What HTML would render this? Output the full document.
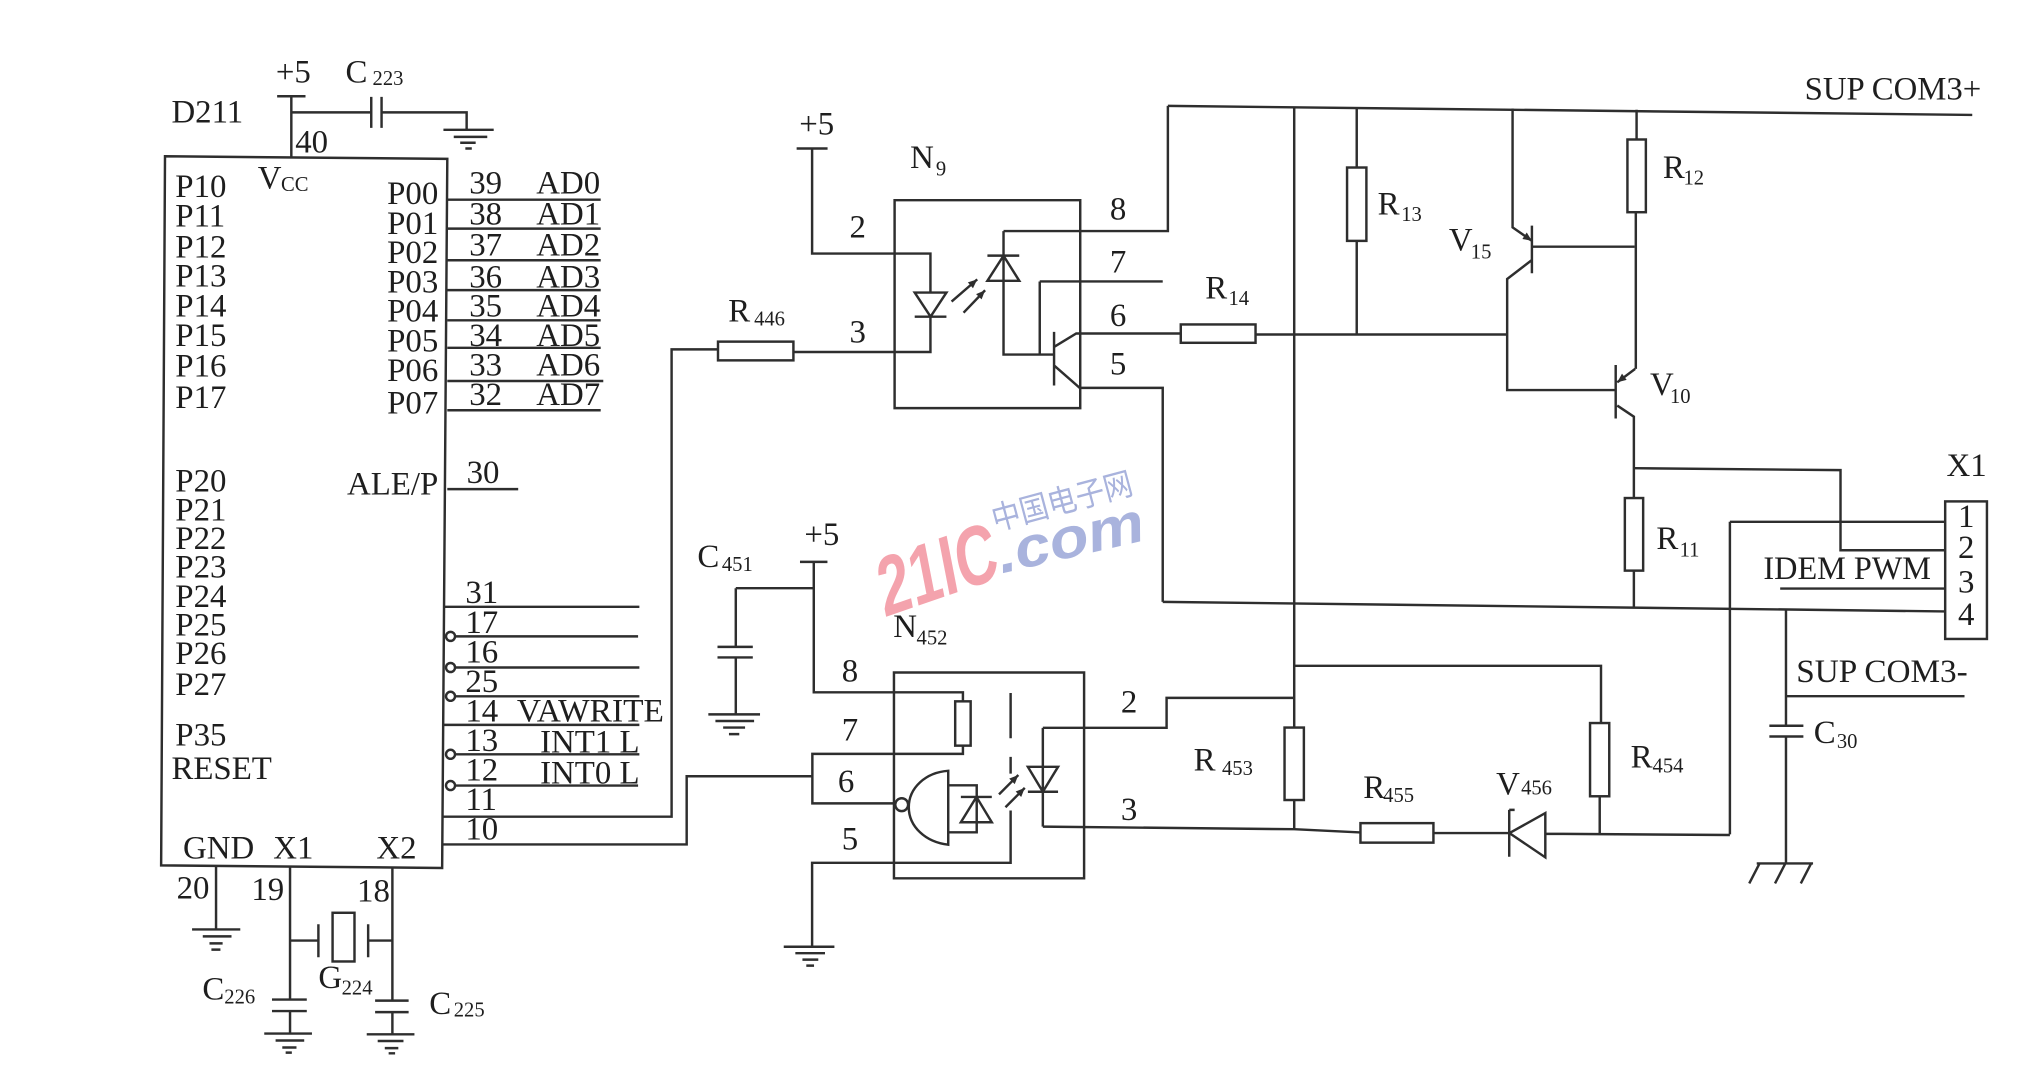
<!DOCTYPE html>
<html><head><meta charset="utf-8"><style>
html,body{margin:0;padding:0;background:#fff;}
svg{display:block;}
.t text{font-family:"Liberation Serif","Noto Serif CJK SC",serif;fill:#1e1e1e;}
.t .s{font-size:16px;}
</style></head><body>
<svg width="2025" height="1085" viewBox="0 0 1550.5 830.8" preserveAspectRatio="none" xmlns="http://www.w3.org/2000/svg">
<rect x="0" y="0" width="1550.5" height="830.8" fill="#fff"/>
<g transform="scale(0.987,0.989)">
<!-- watermark -->
<text x="0" y="0" style="font-family:'Liberation Sans',sans-serif;font-weight:bold;font-size:64px;fill:#f4a3ad" textLength="96" lengthAdjust="spacingAndGlyphs" transform="translate(686,478) rotate(-19) skewX(-8)">21IC</text>
<text x="0" y="0" style="font-family:'Liberation Sans',sans-serif;font-weight:bold;font-style:italic;font-size:44px;fill:#a9b3dd" textLength="116" lengthAdjust="spacingAndGlyphs" transform="translate(777,444) rotate(-13)">.com</text>
<text x="0" y="0" style="font-family:'Noto Sans CJK SC','WenQuanYi Zen Hei',sans-serif;font-size:25px;fill:#a9b3dd" textLength="112" lengthAdjust="spacingAndGlyphs" transform="translate(772,411) rotate(-15)">中国电子网</text>

<g fill="none" stroke="#2e2e2e" stroke-width="1.9">
<!-- chip -->
<path d="M128,121 L347,123 L343,672 L125,670 Z"/>
<!-- +5 and C223 -->
<path d="M215,74.5 H237 M226,74.5 V122 M226,87 H288 M288,75 V99 M296,75 V99 M296,87 H362 V100.5"/>
<path d="M344,100.5 H383 M352,106 H378 M357,110.5 H369 M361,115 H366"/>
<!-- P0 lines -->
<path d="M347,154.6 H466 M347,177 H466 M347,201.5 H466 M347,224.6 H466 M347,248 H466 M347,269.3 H466 M347,295 H468 M347,317.6 H466"/>
<path d="M347,378.7 H402"/>
<!-- lower right pins -->
<path d="M344,469.8 H496 M353,492.7 H495 M353,516.8 H496 M353,539.1 H496 M344,561.2 H496 M353,584 H496 M353,608.2 H495"/>
<circle cx="349.5" cy="492.7" r="3.5"/><circle cx="349.5" cy="516.8" r="3.5"/><circle cx="349.5" cy="539.1" r="3.5"/><circle cx="349.5" cy="584" r="3.5"/><circle cx="349.5" cy="608.2" r="3.5"/>
<path d="M344,632.3 H521 V270.5 H557"/>
<path d="M343,653.8 H532.7 V601 H630.2"/>
<!-- bottom pins -->
<path d="M167.6,671 V719.6 M149,719.6 H186.4 M157.3,725 H179.6 M162.5,730.4 H172.7 M164,735.2 H171"/>
<path d="M225,671.5 V773.9 M225,728.2 H247 M247,715.6 V741.1"/>
<rect x="258" y="706.7" width="17" height="37.7"/>
<path d="M285.6,715.6 V741.1 M285.6,728.2 H304.4 M304.4,672 V774.7"/>
<path d="M211,773.9 H238 M211,782.8 H238 M225,782.8 V800.2 M205,800.2 H242 M213.8,805.6 H236 M219,811 H230 M221.6,815 H226.4"/>
<path d="M291,774.7 H317 M291,783.6 H317 M304.4,783.6 V800.8 M284.5,800.8 H321.5 M293,806 H313 M298.5,811.5 H309 M301.5,815.5 H306.5"/>

<!-- N9 -->
<path d="M618,115 H642 M630,115 V196.3 H721.8 V226.5"/>
<path d="M709.6,226.5 H734.2 L721.9,245.2 Z M709.6,245.2 H734.2 M721.8,245.2 V272.5 H615.5"/>
<rect x="557" y="264.5" width="58.5" height="14.5"/>
<path d="M694,155 H838 V316 H694 Z"/>
<path d="M738.2,233.5 L758.1,216.3 M747.5,242.1 L764.2,224.7"/>
<path d="M778.5,178.9 V274.5 H817.7 M766,217.4 H790.7 L778.5,198 Z M766,197.9 H790.7"/>
<path d="M778.5,178.9 H906 V82"/>
<path d="M806.6,217.9 H902 M806.6,217.9 V274.5"/>
<path d="M817.7,256.9 V298.5 M817.7,268.6 L834.9,258.2 H916 M817.7,282.9 L837.6,300.3 H902 V466"/>
<rect x="916" y="251.2" width="58" height="14.2"/>
<path d="M974,259 H1169"/>
<!-- top rail -->
<path d="M906,82 L1530,89"/>
<path d="M1004,83 V563.3"/>
<path d="M1052.5,83.5 V129.7 M1052.5,186.5 V259"/>
<rect x="1045" y="129.7" width="15" height="56.8"/>
<!-- V15 -->
<path d="M1173.4,84 V176 L1188.4,186.5 M1188.4,174.7 V211.6 M1188.4,191 H1268 M1188.4,201.3 L1169.2,216 V302 H1253.4"/>
<!-- R12 -->
<path d="M1269.6,85 V108 M1269,164.3 V285.6"/>
<rect x="1262.5" y="108" width="14.3" height="56.3"/>
<!-- V10 -->
<path d="M1253.4,282.6 V324 M1268.5,285.6 L1254.6,296 M1254.6,314 L1267.5,322.6 V385.6"/>
<rect x="1260.5" y="385.6" width="14.2" height="56.2"/>
<path d="M1267.5,441.8 V470.5"/>
<path d="M1267.5,362.5 L1427.8,364 V426 H1509"/>
<path d="M1342,404 H1509 M1342,404 V646"/>
<path d="M1381,455.7 H1509"/>
<path d="M902,466 L1509,473.4"/>
<rect x="1509" y="388.2" width="32.4" height="106.5"/>
<!-- C30 -->
<path d="M1385.5,472.5 V561.9 M1372.6,561.9 H1399 M1372.6,570.2 H1399 M1385.5,570.2 V668.5"/>
<path d="M1362.8,668.5 H1406.5 M1365,668.5 L1357,684 M1385,668.5 L1377,684 M1405,668.5 L1397,684"/>
<path d="M1385.5,539 H1524"/>
<!-- lower network -->
<path d="M1004,515.5 H1242 V559.8 M1241,616.5 V645"/>
<rect x="1233.5" y="559.8" width="14.9" height="56.7"/>
<rect x="996.5" y="563.3" width="15" height="56.1"/>
<path d="M1004,619.4 V642"/>
<path d="M809,563.5 H905 V540.3 H1004"/>
<path d="M809,640 L1004,642 L1055.4,644.5"/>
<rect x="1055.4" y="637.3" width="56.6" height="15.1"/>
<path d="M1112,645 H1170.8 M1170.8,627 V663.3 M1170.8,627 H1175 M1171,645 L1198.8,629.5 V663.8 Z M1198.8,645.5 L1342,646.5"/>

<!-- N452 -->
<path d="M620.6,435 H641.9 M631.3,435 V536 H747 V543"/>
<path d="M570.8,455.4 H631.3 M570.8,455.4 V500.8 M556.6,500.8 H584 M556.6,509 H584 M570.8,509 V553.1"/>
<path d="M549.5,553.1 H589.6 M555,558.2 H585 M561,563.3 H578 M565.5,568.4 H573.5"/>
<path d="M693.5,520.7 H841 V680 H693.5 Z"/>
<rect x="741" y="543" width="12" height="34.3"/>
<path d="M747,577.3 V583.7 H630.2 V622 H694.5"/>
<circle cx="699.5" cy="623" r="5"/>
<path d="M735.6,596.8 C718,598 705,610 705,625 C705,640 718,652 735.6,654 Z"/>
<path d="M735.6,608 H757.7 V644.4 H735.6 M745.4,617 H769.4 M745.4,636.6 H769.4 L757.5,617 Z"/>
<path d="M784,536.5 V571.6 M784,586 V599 M784,627.5 V668 H630 V733"/>
<path d="M608,733 H647.3 M617,738 H640 M622.5,743 H634.8 M625.5,747.6 H631.5"/>
<path d="M775,615 L790,600 M780,625 L795,610"/>
<path d="M809,563.5 V640 M797.4,593.7 H820.8 L809,613 Z M797.4,613 H820.8"/>
</g>
<!-- arrow heads -->
<g fill="#2e2e2e" stroke="none">
<polygon points="758.1,216.3 754.8,223.2 750.8,218.6"/>
<polygon points="764.2,224.7 761.5,231.8 757.2,227.7"/>
<polygon points="790,600 787.2,607.1 782.9,602.8"/>
<polygon points="795,610 792.2,617.1 787.9,612.8"/>
<polygon points="1188.4,186.5 1181,185 1184.4,180"/>
<polygon points="1254.6,296 1258.3,289.3 1261.9,294.1"/>
</g>

<!-- texts -->
<g class="t" font-size="25.5">
<text x="133" y="95">D211</text>
<text x="214" y="64">+5</text>
<text x="268" y="64">C</text><text x="289" y="66" class="s">223</text>
<text x="229" y="118">40</text>
<text x="200" y="146">V</text><text x="218" y="148" class="s">CC</text>
<text x="136" y="152.5">P10</text>
<text x="136" y="175.5">P11</text>
<text x="136" y="199.5">P12</text>
<text x="136" y="222">P13</text>
<text x="136" y="245">P14</text>
<text x="136" y="268">P15</text>
<text x="136" y="291.5">P16</text>
<text x="136" y="316">P17</text>
<text x="136" y="380.5">P20</text>
<text x="136" y="403">P21</text>
<text x="136" y="425">P22</text>
<text x="136" y="447">P23</text>
<text x="136" y="470">P24</text>
<text x="136" y="492">P25</text>
<text x="136" y="514">P26</text>
<text x="136" y="538">P27</text>
<text x="136" y="577">P35</text>
<text x="133" y="603">RESET</text>
<g text-anchor="end">
<text x="340" y="158">P00</text>
<text x="340" y="181">P01</text>
<text x="340" y="203.7">P02</text>
<text x="340" y="226.5">P03</text>
<text x="340" y="249">P04</text>
<text x="340" y="272">P05</text>
<text x="340" y="294.8">P06</text>
<text x="340" y="320">P07</text>
<text x="340" y="383">ALE/P</text>
</g>
<text x="364" y="150">39</text><text x="416" y="150">AD0</text>
<text x="364" y="174">38</text><text x="416" y="174">AD1</text>
<text x="364" y="198">37</text><text x="416" y="198">AD2</text>
<text x="364" y="222.4">36</text><text x="416" y="222.4">AD3</text>
<text x="364" y="245">35</text><text x="416" y="245">AD4</text>
<text x="364" y="268">34</text><text x="416" y="268">AD5</text>
<text x="364" y="290.8">33</text><text x="416" y="290.8">AD6</text>
<text x="364" y="313.6">32</text><text x="416" y="313.6">AD7</text>
<text x="362" y="374">30</text>
<text x="361" y="467">31</text>
<text x="361" y="490">17</text>
<text x="361" y="512.8">16</text>
<text x="361" y="535.6">25</text>
<text x="361" y="558.5">14</text><text x="401" y="558.5" textLength="114" lengthAdjust="spacingAndGlyphs">VAWRITE</text>
<text x="361" y="581.3">13</text><text x="419" y="582.6">INT1 L</text>
<text x="361" y="604.1">12</text><text x="419" y="606.8">INT0 L</text>
<text x="361" y="627">11</text>
<text x="361" y="649.8">10</text>
<text x="142" y="664.6">GND</text>
<text x="212" y="664.6">X1</text>
<text x="292" y="664.6">X2</text>
<text x="137" y="695.5">20</text>
<text x="195" y="696.8">19</text>
<text x="277" y="698">18</text>
<text x="157" y="774">C</text><text x="174" y="777" class="s">226</text>
<text x="247" y="765">G</text><text x="265" y="770" class="s">224</text>
<text x="333" y="785">C</text><text x="352" y="787" class="s">225</text>

<text x="620" y="104">+5</text>
<text x="706" y="130">N</text><text x="726" y="136" class="s">9</text>
<text x="659" y="184">2</text>
<text x="659" y="265">3</text>
<text x="565" y="249">R</text><text x="585" y="252" class="s">446</text>
<text x="861" y="170">8</text>
<text x="861" y="211">7</text>
<text x="861" y="252.5">6</text>
<text x="861" y="290">5</text>
<text x="935" y="231">R</text><text x="953" y="236" class="s">14</text>
<text x="1068.7" y="166">R</text><text x="1087" y="171" class="s">13</text>
<text x="1124" y="194">V</text><text x="1141" y="200" class="s">15</text>
<text x="1290" y="138">R</text><text x="1306" y="143" class="s">12</text>
<text x="1280" y="306">V</text><text x="1295.5" y="312" class="s">10</text>
<text x="1285" y="425">R</text><text x="1303" y="431" class="s">11</text>
<text x="1400" y="77" textLength="137" lengthAdjust="spacingAndGlyphs">SUP COM3+</text>
<text x="1510" y="368.4">X1</text>
<text x="1519" y="408">1</text>
<text x="1519" y="432">2</text>
<text x="1519" y="458.6">3</text>
<text x="1519" y="483.8">4</text>
<text x="1368" y="448.3" textLength="130" lengthAdjust="spacingAndGlyphs">IDEM PWM</text>
<text x="1393.5" y="528" textLength="133" lengthAdjust="spacingAndGlyphs">SUP COM3-</text>
<text x="1407" y="575.4">C</text><text x="1425" y="579" class="s">30</text>

<text x="624" y="421.8">+5</text>
<text x="541" y="439">C</text><text x="560" y="442" class="s">451</text>
<text x="693" y="493">N</text><text x="711" y="499" class="s">452</text>
<text x="653" y="527.6">8</text>
<text x="653" y="573.5">7</text>
<text x="650" y="613">6</text>
<text x="653" y="657.6">5</text>
<text x="869.5" y="551.8">2</text>
<text x="869.5" y="634.7">3</text>
<text x="926" y="596.4">R</text><text x="948" y="600" class="s">453</text>
<text x="1265" y="594.4">R</text><text x="1282" y="598" class="s">454</text>
<text x="1057.6" y="617.8">R</text><text x="1073" y="621" class="s">455</text>
<text x="1160.6" y="615">V</text><text x="1180" y="615" class="s">456</text>
</g>
</g>
</svg>
</body></html>
